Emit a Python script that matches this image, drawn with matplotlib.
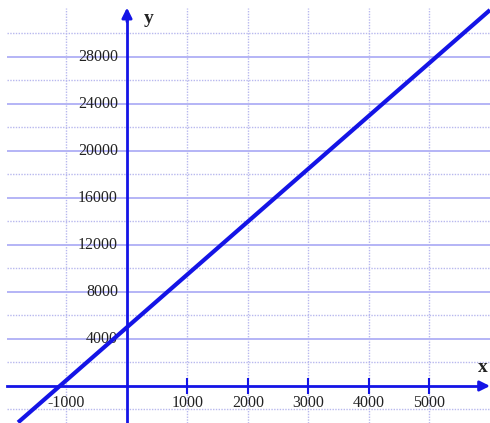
import numpy as np
import matplotlib
matplotlib.use("Agg")
import matplotlib.pyplot as plt

# line y = 4.5x + 5000 at a few points
line_x = [-1800, 0, 6000]
line_y = [-3100, 5000, 32000]

x_ticks = [-1000, 1000, 2000, 3000, 4000, 5000]
x_labels = ["-1000", "1000", "2000", "3000", "4000", "5000"]
y_ticks = [4000, 8000, 12000, 16000, 20000, 24000, 28000]
y_labels = ["4000", "8000", "12000", "16000", "20000", "24000", "28000"]
y_minor = [-2000, 2000, 6000, 10000, 14000, 18000, 22000, 26000, 30000]

BLUE = "#1414e6"
GRID = "#a8a8f5"
GRID_DOT = "#b8b8ee"
SERIF = ["Liberation Serif", "DejaVu Serif"]

fig = plt.figure(figsize=(4.9, 4.23), dpi=100)
ax = fig.add_axes([0, 0, 1, 1])
ax.set_xlim(-2099, 6000)
ax.set_ylim(-3149, 32851)
ax.axis("off")

x_left, y_top = -1985, 32170

# grid
ax.hlines(y_ticks, x_left, 6000, color=GRID, lw=1.2, zorder=1)
ax.hlines(y_minor, x_left, 6000, color=GRID_DOT, lw=1.0, ls=(0, (1, 1)), zorder=1)
ax.vlines(x_ticks, -3149, y_top, color=GRID_DOT, lw=1.0, ls=(0, (1, 1)), zorder=1)

# axes with arrow heads
ax.plot([x_left, 5900], [0, 0], color=BLUE, lw=2, zorder=2)
ax.plot([0, 0], [-3149, 31500], color=BLUE, lw=2, zorder=2)
ax.annotate("", xy=(6000, 0), xytext=(5850, 0),
            arrowprops=dict(arrowstyle="-|>,head_length=0.6,head_width=0.3",
                            color=BLUE, lw=2, shrinkA=0, shrinkB=0), zorder=3)
ax.annotate("", xy=(0, 32200), xytext=(0, 31000),
            arrowprops=dict(arrowstyle="-|>,head_length=0.6,head_width=0.3",
                            color=BLUE, lw=2, shrinkA=0, shrinkB=0), zorder=3)

# x ticks
ax.vlines(x_ticks[1:], -650, 650, color=BLUE, lw=1.5, zorder=2)

for xt, lab in zip(x_ticks, x_labels):
    ax.text(xt, -1450, lab, ha="center", va="center", fontsize=11.5,
            family=SERIF, color="#222222", zorder=4)
for yt, lab in zip(y_ticks, y_labels):
    ax.text(-150, yt, lab, ha="right", va="center", fontsize=11.5,
            family=SERIF, color="#222222", zorder=4)

ax.text(350, 31300, "y", ha="center", va="center", fontsize=14, fontweight="bold",
        family=SERIF, color="#222222")
ax.text(5880, 1550, "x", ha="center", va="center", fontsize=14, fontweight="bold",
        family=SERIF, color="#222222")

# the line
ax.plot(line_x, line_y, color=BLUE, lw=3, solid_capstyle="butt", zorder=5)

fig.savefig("out.png", dpi=100)
